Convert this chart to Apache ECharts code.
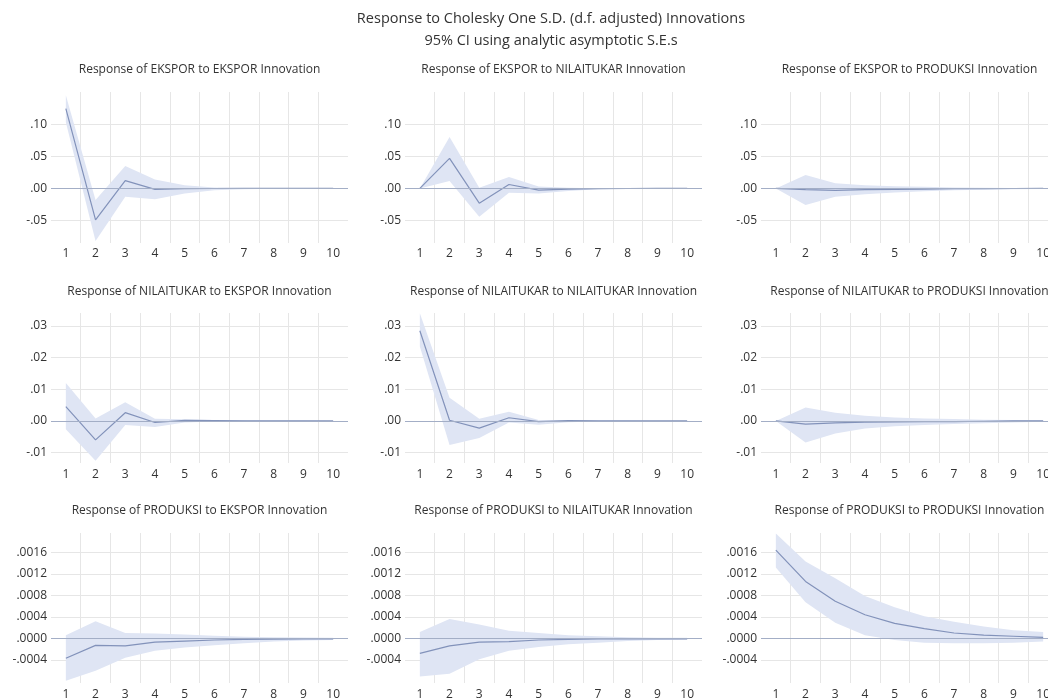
<!DOCTYPE html>
<html>
<head>
<meta charset="utf-8">
<script src="https://cdn.jsdelivr.net/npm/echarts@6/dist/echarts.min.js"></script>
<style>
  html, body { margin: 0; padding: 0; background: #ffffff; }
  #chart { width: 1048px; height: 699px; }
</style>
</head>
<body>
<div id="chart"></div>
<script>
// Impulse responses over 10 periods, with 95% confidence bands
const periods = [1, 2, 3, 4, 5, 6, 7, 8, 9, 10];
const periodLabels = ['1', '2', '3', '4', '5', '6', '7', '8', '9', '10'];

const mainTitle = 'Response to Cholesky One S.D. (d.f. adjusted) Innovations';
const subTitle = '95% CI using analytic asymptotic S.E.s';

// Row 1: response of EKSPOR
const respEksporEkspor  = [0.124, -0.049, 0.012, -0.0015, -0.0005, -0.0002, -0.0001, 0, 0, 0];
const upperEksporEkspor = [0.145, -0.018, 0.035, 0.014, 0.005, 0.0015, 0.0006, 0.0003, 0.0002, 0.0001];
const lowerEksporEkspor = [0.103, -0.082, -0.013, -0.017, -0.008, -0.003, -0.0012, -0.0005, -0.0002, -0.0001];

const respEksporNilai  = [0, 0.0466, -0.023, 0.006, -0.0026, -0.001, -0.0005, -0.0002, -0.0001, 0];
const upperEksporNilai = [0, 0.080, 0.001, 0.0176, 0.003, 0.001, 0.0004, 0.0002, 0.0001, 0.0001];
const lowerEksporNilai = [0, 0.0114, -0.044, -0.0067, -0.0078, -0.004, -0.0015, -0.0006, -0.0003, -0.0001];

const respEksporProduksi  = [0, -0.002, -0.003, -0.002, -0.0015, -0.001, -0.0005, -0.0003, -0.0002, -0.0001];
const upperEksporProduksi = [0, 0.021, 0.008, 0.005, 0.0035, 0.0025, 0.0015, 0.001, 0.0006, 0.0004];
const lowerEksporProduksi = [0, -0.026, -0.013, -0.009, -0.0065, -0.0045, -0.003, -0.002, -0.0012, -0.0008];

// Row 2: response of NILAITUKAR
const respNilaiEkspor  = [0.0045, -0.006, 0.0026, -0.0005, 0.0002, 0.0001, 0, 0, 0, 0];
const upperNilaiEkspor = [0.012, 0.0008, 0.0059, 0.0007, 0.0005, 0.0003, 0.0002, 0.0001, 0.0001, 0];
const lowerNilaiEkspor = [-0.0026, -0.0126, -0.0013, -0.0019, -0.0005, -0.0002, -0.0001, -0.0001, 0, 0];

const respNilaiNilai  = [0.0285, 0.0002, -0.0023, 0.001, -0.0002, 0.0001, 0, 0, 0, 0];
const upperNilaiNilai = [0.034, 0.0073, 0.0007, 0.0029, 0.0003, 0.0002, 0.0001, 0.0001, 0, 0];
const lowerNilaiNilai = [0.0235, -0.0076, -0.0054, -0.0005, -0.0012, -0.0004, -0.0002, -0.0001, 0, 0];

const respNilaiProduksi  = [0, -0.001, -0.0006, -0.0004, -0.0003, -0.0002, -0.0002, -0.0001, 0, 0];
const upperNilaiProduksi = [0, 0.0042, 0.0026, 0.0016, 0.0011, 0.0008, 0.0006, 0.0004, 0.0003, 0.0002];
const lowerNilaiProduksi = [0, -0.0068, -0.004, -0.0024, -0.0017, -0.0013, -0.001, -0.0007, -0.0005, -0.0003];

// Row 3: response of PRODUKSI
const respProduksiEkspor  = [-0.00037, -0.00013, -0.00014, -0.00007, -0.00005, -0.00003, -0.00002, -0.000015, -0.00001, -0.00001];
const upperProduksiEkspor = [0.00006, 0.00032, 0.0001, 0.00009, 0.00007, 0.00005, 0.00003, 0.00002, 0.000015, 0.00001];
const lowerProduksiEkspor = [-0.00079, -0.0006, -0.00036, -0.00023, -0.00017, -0.00013, -0.00009, -0.00006, -0.00004, -0.00003];

const respProduksiNilai  = [-0.00028, -0.00014, -0.00007, -0.00006, -0.00003, -0.00002, -0.00001, -0.00001, -0.00001, -0.00001];
const upperProduksiNilai = [0.00012, 0.00036, 0.00026, 0.00014, 0.0001, 0.00006, 0.00004, 0.00002, 0.00001, 0.00001];
const lowerProduksiNilai = [-0.00071, -0.00066, -0.00039, -0.00023, -0.00016, -0.00011, -0.00008, -0.00005, -0.00003, -0.00002];

const respProduksiProduksi  = [0.00164, 0.00106, 0.00069, 0.00044, 0.00028, 0.00018, 0.0001, 0.00006, 0.00004, 0.00002];
const upperProduksiProduksi = [0.00195, 0.00143, 0.00112, 0.00079, 0.00058, 0.00041, 0.00031, 0.00022, 0.00015, 0.00012];
const lowerProduksiProduksi = [0.00132, 0.00067, 0.00029, 0.00006, -0.00003, -0.00008, -0.00009, -0.00009, -0.00008, -0.00006];

// Value-axis ticks per row
const ticksRow1 = [0.10, 0.05, 0.00, -0.05];
const tickLabelsRow1 = ['.10', '.05', '.00', '-.05'];
const ticksRow2 = [0.03, 0.02, 0.01, 0.00, -0.01];
const tickLabelsRow2 = ['.03', '.02', '.01', '.00', '-.01'];
const ticksRow3 = [0.0016, 0.0012, 0.0008, 0.0004, 0.0000, -0.0004];
const tickLabelsRow3 = ['.0016', '.0012', '.0008', '.0004', '.0000', '-.0004'];

const panels = [
  { title: 'Response of EKSPOR to EKSPOR Innovation', resp: respEksporEkspor, upper: upperEksporEkspor, lower: lowerEksporEkspor },
  { title: 'Response of EKSPOR to NILAITUKAR Innovation', resp: respEksporNilai, upper: upperEksporNilai, lower: lowerEksporNilai },
  { title: 'Response of EKSPOR to PRODUKSI Innovation', resp: respEksporProduksi, upper: upperEksporProduksi, lower: lowerEksporProduksi },
  { title: 'Response of NILAITUKAR to EKSPOR Innovation', resp: respNilaiEkspor, upper: upperNilaiEkspor, lower: lowerNilaiEkspor },
  { title: 'Response of NILAITUKAR to NILAITUKAR Innovation', resp: respNilaiNilai, upper: upperNilaiNilai, lower: lowerNilaiNilai },
  { title: 'Response of NILAITUKAR to PRODUKSI Innovation', resp: respNilaiProduksi, upper: upperNilaiProduksi, lower: lowerNilaiProduksi },
  { title: 'Response of PRODUKSI to EKSPOR Innovation', resp: respProduksiEkspor, upper: upperProduksiEkspor, lower: lowerProduksiEkspor },
  { title: 'Response of PRODUKSI to NILAITUKAR Innovation', resp: respProduksiNilai, upper: upperProduksiNilai, lower: lowerProduksiNilai },
  { title: 'Response of PRODUKSI to PRODUKSI Innovation', resp: respProduksiProduksi, upper: upperProduksiProduksi, lower: lowerProduksiProduksi }
];

// Layout of the 3x3 panel grid
const FONT = 'Open Sans';
const TEXT_COLOR = '#333333';
const LINE_COLOR = '#8292ba';
const BAND_COLOR = '#dfe5f4';
const ZERO_COLOR = '#a3aec6';
const GRID_COLOR = '#e6e6e6';
const colLeft = [51, 405, 761];
const plotWidth = 297;
const rowTop = [92, 313, 533];
const rowBottom = [243, 463, 683];
const rowTitleY = [68, 290, 509];
const rowLabelMargin = [5, 6, 6];
const rowRange = [
  { min: -0.085, max: 0.15, ticks: ticksRow1, labels: tickLabelsRow1 },
  { min: -0.0133, max: 0.0341, ticks: ticksRow2, labels: tickLabelsRow2 },
  { min: -0.00083, max: 0.00196, ticks: ticksRow3, labels: tickLabelsRow3 }
];
const boundaries = periods.slice(0, -1).map(p => p + 0.5);

const titles = [
  { text: mainTitle, left: 551, top: 11, textAlign: 'center', padding: 0,
    textStyle: { fontFamily: FONT, fontSize: 14.5, fontWeight: 'normal', color: TEXT_COLOR } },
  { text: subTitle, left: 551, top: 33, textAlign: 'center', padding: 0,
    textStyle: { fontFamily: FONT, fontSize: 14.5, fontWeight: 'normal', color: TEXT_COLOR } }
];
const grids = [], xAxes = [], yAxes = [], series = [];

// Confidence band as one polygon: upper edge left to right, lower edge back
function bandRenderer(lower, upper) {
  return function (params, api) {
    if (params.dataIndex !== 0) return null;
    const top = periods.map((x, j) => api.coord([x, upper[j]]));
    const bottom = periods.map((x, j) => api.coord([x, lower[j]])).reverse();
    return {
      type: 'polygon',
      shape: { points: top.concat(bottom) },
      style: { fill: BAND_COLOR, stroke: null },
      silent: true
    };
  };
}

panels.forEach((p, i) => {
  const row = Math.floor(i / 3), col = i % 3;
  const range = rowRange[row];
  const left = colLeft[col];
  titles.push({
    text: p.title, left: left + plotWidth / 2, top: rowTitleY[row] - 4.5, textAlign: 'center', padding: 0,
    textStyle: { fontFamily: FONT, fontSize: 12, fontWeight: 'normal', color: TEXT_COLOR }
  });
  grids.push({
    left: left, top: rowTop[row], width: plotWidth, height: rowBottom[row] - rowTop[row],
    containLabel: false, outerBoundsMode: 'none'
  });
  xAxes.push({
    type: 'value', gridIndex: i, min: 0.5, max: 10.5,
    axisLine: { show: false },
    axisTick: { show: false, customValues: boundaries },
    splitLine: { show: true, lineStyle: { color: GRID_COLOR, width: 1 } },
    axisLabel: {
      customValues: periods, margin: rowLabelMargin[row],
      formatter: v => periodLabels[periods.indexOf(Math.round(v))],
      fontFamily: FONT, fontSize: 12, color: TEXT_COLOR
    }
  });
  yAxes.push({
    type: 'value', gridIndex: i, min: range.min, max: range.max,
    axisLine: { show: false },
    axisTick: { show: false, customValues: range.ticks },
    splitLine: { show: true, lineStyle: { color: GRID_COLOR, width: 1 } },
    axisLabel: {
      customValues: range.ticks, margin: 4,
      formatter: v => {
        let k = 0, best = Infinity;
        range.ticks.forEach((t, j) => { const d = Math.abs(t - v); if (d < best) { best = d; k = j; } });
        return range.labels[k];
      },
      fontFamily: FONT, fontSize: 12, color: TEXT_COLOR
    }
  });
  series.push({
    type: 'custom', xAxisIndex: i, yAxisIndex: i,
    data: periods.map((x, j) => [x, p.lower[j], p.upper[j]]),
    encode: { x: 0, y: [1, 2] },
    renderItem: bandRenderer(p.lower, p.upper),
    silent: true, z: 1
  });
  series.push({
    type: 'line', xAxisIndex: i, yAxisIndex: i,
    data: periods.map((x, j) => [x, p.resp[j]]),
    symbol: 'none', lineStyle: { color: LINE_COLOR, width: 1.2 }, silent: true, z: 3,
    markLine: {
      silent: true, symbol: 'none', label: { show: false },
      lineStyle: { color: ZERO_COLOR, width: 1, type: 'solid' },
      data: [{ yAxis: 0 }]
    }
  });
});

const chart = echarts.init(document.getElementById('chart'), null, { renderer: 'canvas' });
chart.setOption({
  animation: false,
  backgroundColor: '#ffffff',
  title: titles,
  grid: grids,
  xAxis: xAxes,
  yAxis: yAxes,
  series: series
});
</script>
</body>
</html>
